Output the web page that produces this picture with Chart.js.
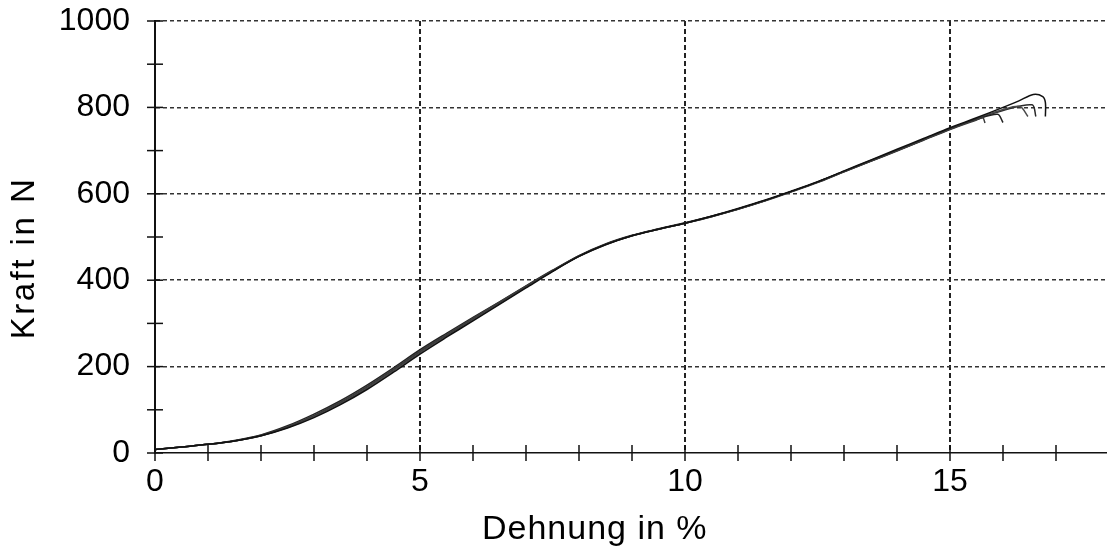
<!DOCTYPE html>
<html><head><meta charset="utf-8">
<script src="https://cdn.jsdelivr.net/npm/chart.js@4.4.1/dist/chart.umd.min.js"></script>
<style>html,body{margin:0;padding:0;background:#fff;overflow:hidden}#wrap{width:1109px;height:556px;position:relative}</style>
</head><body><div id="wrap"><canvas id="c" width="1109" height="556"></canvas></div>
<script>
// Dehnung in % (shared strain grid up to 15.5 %)
const strain = [0,0.5,1,1.5,2,2.5,3,3.5,4,4.5,5,5.5,6,6.5,7,7.5,8,8.5,9,9.5,10,10.5,11,11.5,12,12.5,13,13.5,14,14.5,15,15.5];
// Kraft in N for five specimens
const force1 = [8,14,20,28,40,58,82,112,147,187,229,268,306,344,382,420,455,482,503,518,532,548,566,585,606,628,653,678,703,728,753,776];
const force2 = [8,14,20,28,41,61,87,118,154,194,236,274,312,349,386,422,456,483,503,518,532,547,564,583,604,626,651,675,699,724,749,771];
const force3 = [8,14,20,29,42,63,90,121,157,197,239,277,314,350,387,423,457,484,504,519,533,548,565,584,605,627,652,676,700,725,750,772];
const force4 = [8,14,20,28,40,59,84,114,150,190,232,270,308,346,384,421,455,482,503,518,532,548,565,584,605,627,652,677,701,726,751,774];
const force5 = [8,14,20,28,40,60,86,116,152,192,234,272,310,347,385,421,456,483,503,518,532,547,565,584,605,627,651,675,700,725,750,773];
// failure tails (strain, force)
const tail1x = [16,16.3,16.57,16.75,16.8,16.8], tail1y = [800,815,830,825,811,779];
const tail2x = [15.62,15.66], tail2y = [776,764];
const tail3x = [15.9,16.0], tail3y = [784,765];
const tail4x = [16,16.32,16.47], tail4y = [795,802,779];
const tail5x = [16,16.55,16.62], tail5y = [793,806,779];
// zero-force trace along the axis after failure
const baseX = [2.1,18], baseY = [0,0];
// axis ticks and titles
const xTickLabels = [0,5,10,15];
const yTickLabels = [0,200,400,600,800,1000];
const xTitle = 'Dehnung in %';
const yTitle = 'Kraft in N';

function pts(xs, ys, tx, ty){
  const out = xs.map((x,i)=>({x:x,y:ys[i]}));
  if (tx) tx.forEach((x,i)=>out.push({x:x,y:ty[i]}));
  return out;
}
const colors = ['#111','#3a3a3a','#222','#4a4a4a','#2a2a2a'];
const series = [[force1,tail1x,tail1y],[force2,tail2x,tail2y],[force3,tail3x,tail3y],[force4,tail4x,tail4y],[force5,tail5x,tail5y]];
const datasets = series.map((s,i)=>({
  data: pts(strain, s[0], s[1], s[2]),
  borderColor: colors[i], borderWidth: 1.5, pointRadius: 0, tension: 0.3, fill:false
}));
datasets.push({data: pts(baseX, baseY), borderColor:'#111', borderWidth:2, pointRadius:0, tension:0});

const FAMILY = "'Liberation Sans', Arial, sans-serif";
const crossTicks = {
  id:'crossTicks',
  afterDraw(chart){
    const ctx = chart.ctx, xs = chart.scales.x, ys = chart.scales.y, ca = chart.chartArea;
    const ax = xs.getPixelForValue(0), ay = ys.getPixelForValue(0);
    ctx.save(); ctx.strokeStyle='#111'; ctx.lineWidth=1.5; ctx.setLineDash([]);
    for (let v=0; v<=18; v++){ const px = xs.getPixelForValue(v); ctx.beginPath(); ctx.moveTo(px, ay-8); ctx.lineTo(px, ay+8); ctx.stroke(); }
    for (let v=0; v<=1000; v+=100){ const py = ys.getPixelForValue(v); ctx.beginPath(); ctx.moveTo(ax-8, py); ctx.lineTo(ax+8, py); ctx.stroke(); }
    // axis titles
    ctx.fillStyle = '#000';
    ctx.font = '34px ' + FAMILY;
    try { ctx.letterSpacing = '1px'; } catch(e) {}
    ctx.textAlign = 'left'; ctx.textBaseline = 'middle';
    ctx.fillText(xTitle, ca.left + 327, 530);
    ctx.save();
    ctx.translate(25, ca.top + 237);
    ctx.rotate(-Math.PI/2);
    ctx.font = '33px ' + FAMILY;
    try { ctx.letterSpacing = '2.5px'; } catch(e) {}
    ctx.textAlign = 'center'; ctx.textBaseline = 'middle';
    ctx.fillText(yTitle, 0, 0);
    ctx.restore();
    try { ctx.letterSpacing = '0px'; } catch(e) {}
    ctx.restore();
  }
};

const font = {family:FAMILY, size:32};
new Chart(document.getElementById('c'), {
  type:'line',
  data:{datasets},
  plugins:[crossTicks],
  options:{
    responsive:false, animation:false, devicePixelRatio:1,
    layout:{padding:{top:21,left:0,right:0,bottom:0}},
    plugins:{legend:{display:false}, tooltip:{enabled:false}},
    scales:{
      x:{type:'linear', min:0, max:18,
        afterFit(s){ s.height = 103; s.paddingLeft = 0; s.paddingRight = 0; },
        afterBuildTicks(s){ s.ticks = Array.from({length:19},(_, i)=>({value:i})); },
        ticks:{stepSize:1, autoSkip:false, maxRotation:0, padding:10, color:'#000', font,
          callback:(v)=> xTickLabels.includes(v) ? String(v) : ''},
        grid:{drawTicks:false, lineWidth:2,
          color:(c)=> (c.tick && xTickLabels.includes(c.tick.value) && c.tick.value!==0) ? '#222' : 'rgba(0,0,0,0)'},
        border:{display:true, color:'#111', width:1.5, dash:[5,3]},
        title:{display:false}
      },
      y:{type:'linear', min:0, max:1000,
        afterFit(s){ s.width = 155; s.paddingTop = 0; s.paddingBottom = 0; },
        afterBuildTicks(s){ s.ticks = Array.from({length:11},(_, i)=>({value:i*100})); },
        ticks:{stepSize:100, autoSkip:false, padding:25, color:'#000', font,
          callback:(v)=> yTickLabels.includes(v) ? String(v) : ''},
        grid:{drawTicks:false, lineWidth:1.5,
          color:(c)=> (c.tick && yTickLabels.includes(c.tick.value) && c.tick.value!==0) ? '#333' : 'rgba(0,0,0,0)'},
        border:{display:true, color:'#111', width:2, dash:[4,3]},
        title:{display:false}
      }
    }
  }
});
</script></body></html>
